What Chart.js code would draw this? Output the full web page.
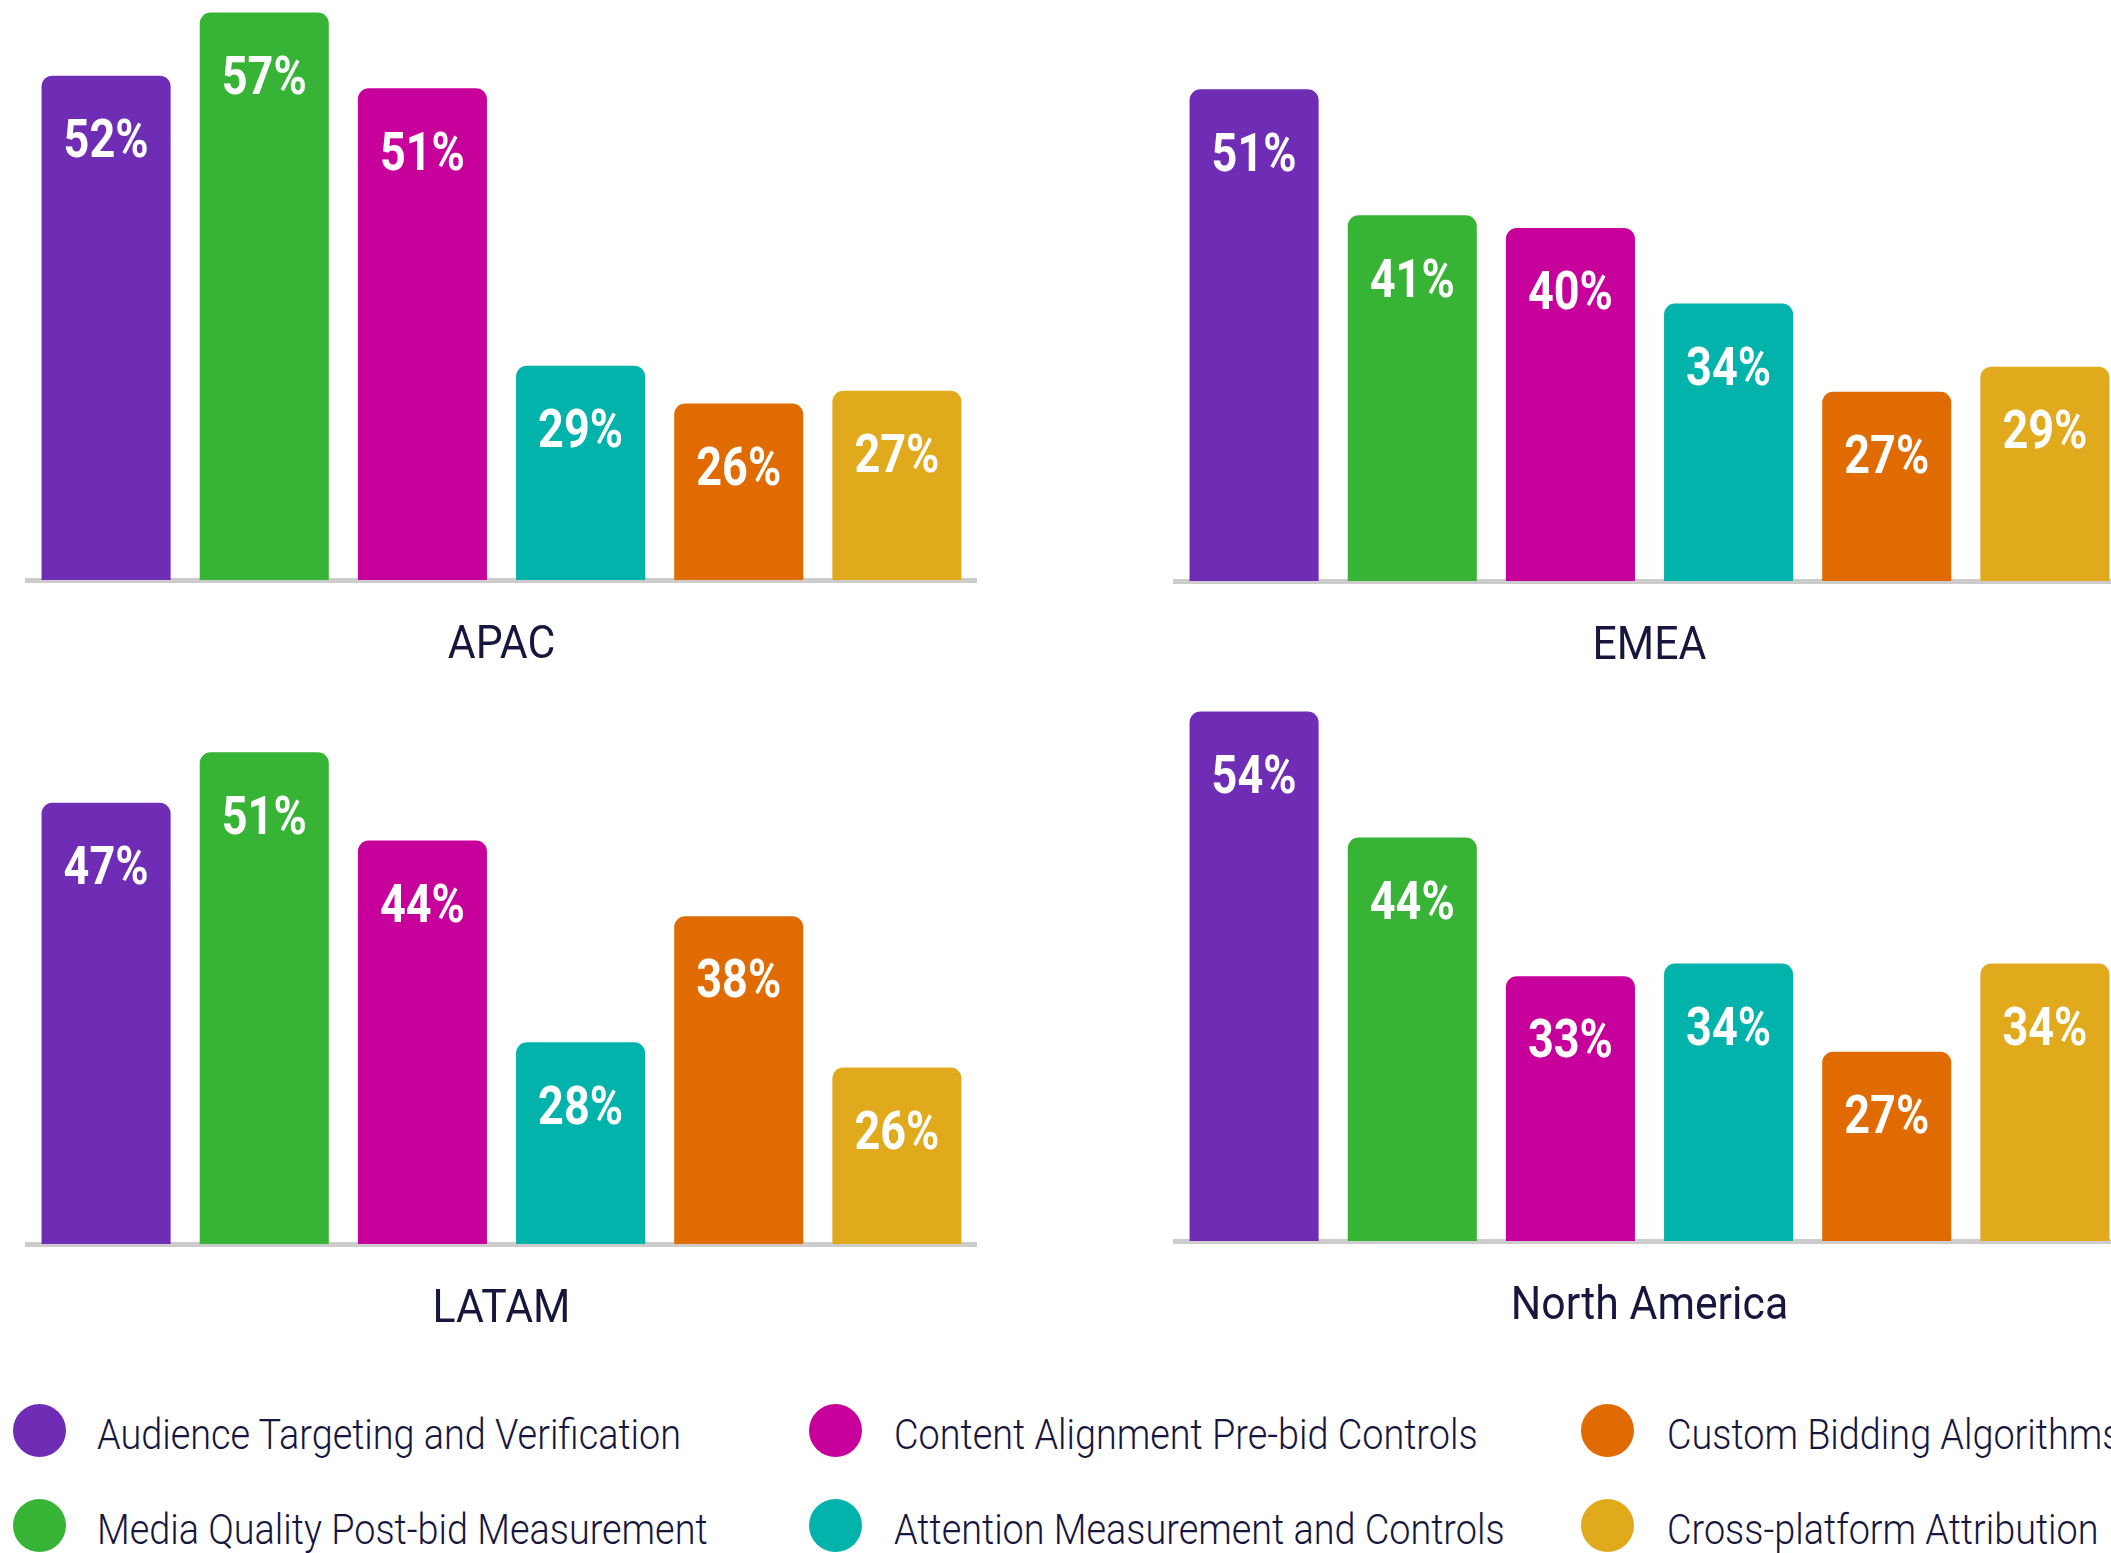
<!DOCTYPE html>
<html>
<head>
<meta charset="utf-8">
<script src="https://cdn.jsdelivr.net/npm/chart.js@4.4.1/dist/chart.umd.min.js"></script>
<style>
  body { margin: 0; width: 2111px; height: 1553px; overflow: hidden; background: #fff; position: relative; font-family: Roboto, sans-serif; }
  .panel { position: absolute; width: 1000px; height: 680px; }
  .dot { position: absolute; width: 53px; height: 53px; border-radius: 50%; }
  .item { position: absolute; font-size: 42px; font-weight: 300; line-height: 1; color: #17163d; white-space: nowrap; transform-origin: 0 50%; transform: scaleX(0.9); }
</style>
</head>
<body>
<canvas id="apac" class="panel" width="1000" height="680" style="left:0;top:0"></canvas>
<canvas id="emea" class="panel" width="1000" height="680" style="left:1148px;top:1px"></canvas>
<canvas id="latam" class="panel" width="1000" height="680" style="left:0;top:664px"></canvas>
<canvas id="na" class="panel" width="1000" height="680" style="left:1148px;top:661px"></canvas>
<div id="legend"></div>
<script>
const categories = [
  'Audience Targeting and Verification',
  'Media Quality Post-bid Measurement',
  'Content Alignment Pre-bid Controls',
  'Attention Measurement and Controls',
  'Custom Bidding Algorithms',
  'Cross-platform Attribution'
];
const colors = ['#6f2cb5', '#37b335', '#c8009b', '#02b3ac', '#e06b02', '#e1a91c'];

const apacValues  = [52, 57, 51, 29, 26, 27];
const emeaValues  = [51, 41, 40, 34, 27, 29];
const latamValues = [47, 51, 44, 28, 38, 26];
const naValues    = [54, 44, 33, 34, 27, 34];

// labels inside the bars + region name under the axis
const barLabels = {
  id: 'barLabels',
  afterDatasetsDraw(chart, args, opts) {
    const ctx = chart.ctx;
    const meta = chart.getDatasetMeta(0);
    const values = chart.data.datasets[0].data;
    ctx.save();
    ctx.textAlign = 'center';
    ctx.textBaseline = 'middle';
    ctx.fillStyle = '#fff';
    ctx.font = 'bold 53px Roboto';
    meta.data.forEach(function (bar, i) {
      ctx.save();
      ctx.translate(bar.x, bar.y + 68);
      ctx.scale(0.85, 1);
      ctx.fillText(values[i] + '%', 0, 0);
      ctx.restore();
    });
    const area = chart.chartArea;
    ctx.fillStyle = '#17163d';
    ctx.font = '46px Roboto';
    ctx.translate((area.left + area.right) / 2, area.bottom + 66);
    ctx.scale(0.93, 1);
    ctx.fillText(opts.text, 0, 0);
    ctx.restore();
  }
};

function createChart(id, title, values) {
  return new Chart(document.getElementById(id), {
    type: 'bar',
    data: {
      labels: categories,
      datasets: [{
        data: values,
        backgroundColor: colors,
        borderRadius: { topLeft: 11, topRight: 11 },
        borderSkipped: 'bottom',
        categoryPercentage: 1,
        barPercentage: 0.816
      }]
    },
    options: {
      responsive: false,
      animation: false,
      layout: { padding: { left: 27, right: 24, top: 0, bottom: 100 } },
      plugins: {
        legend: { display: false },
        tooltip: { enabled: false },
        barLabels: { text: title }
      },
      scales: {
        x: {
          ticks: { display: false },
          grid: { display: false, drawTicks: false },
          border: { display: true, color: '#cccccc', width: 5 }
        },
        y: { display: false, min: 12, max: 58 }
      }
    },
    plugins: [barLabels]
  });
}

createChart('apac', 'APAC', apacValues);
createChart('emea', 'EMEA', emeaValues);
createChart('latam', 'LATAM', latamValues);
createChart('na', 'North America', naValues);

// legend, filled column by column
const colX = [39, 835, 1607];
const textX = [97, 894, 1667];
const rowY = [1430, 1525];
const legend = document.getElementById('legend');
categories.forEach(function (name, i) {
  const col = Math.floor(i / 2), row = i % 2;
  const dot = document.createElement('div');
  dot.className = 'dot';
  dot.style.background = colors[i];
  dot.style.left = (colX[col] - 26.5) + 'px';
  dot.style.top = (rowY[row] - 26.5) + 'px';
  legend.appendChild(dot);
  const txt = document.createElement('div');
  txt.className = 'item';
  txt.textContent = name;
  txt.style.left = textX[col] + 'px';
  txt.style.top = (rowY[row] - 16) + 'px';
  legend.appendChild(txt);
});
</script>
</body>
</html>
